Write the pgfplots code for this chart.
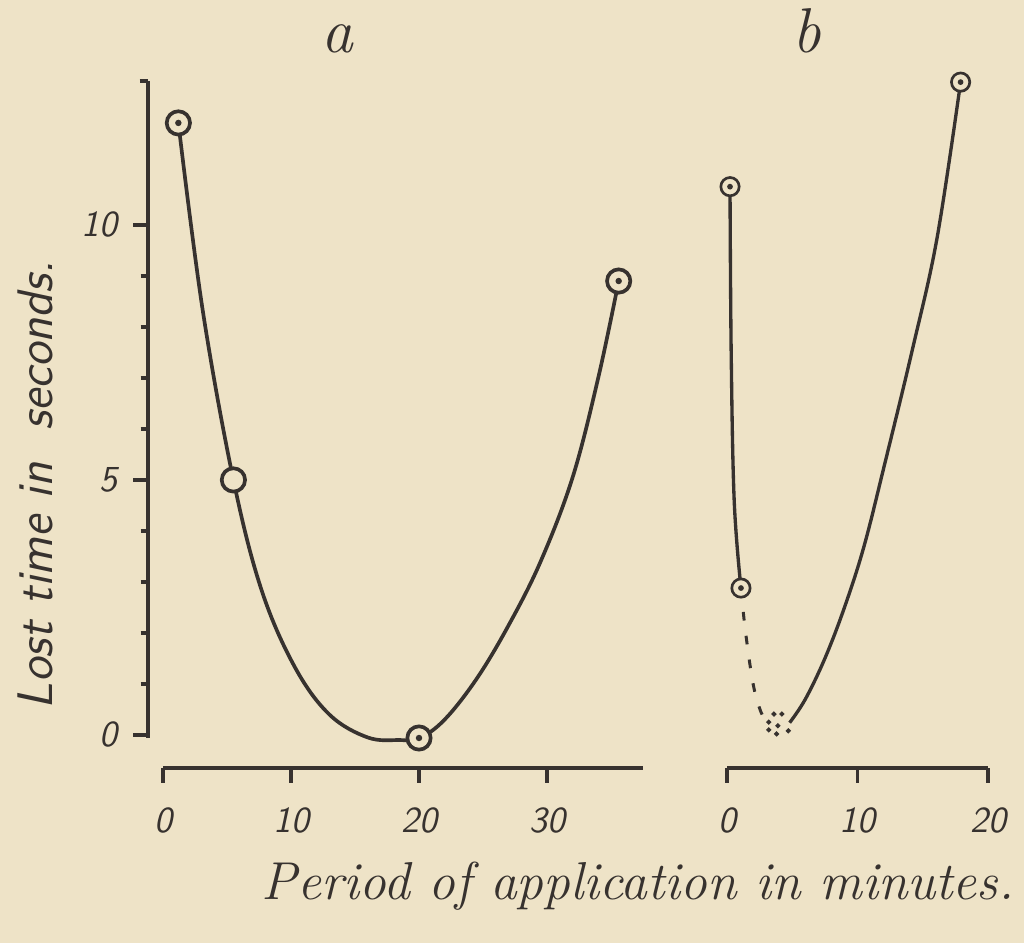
\documentclass[border=0pt]{standalone}
\usepackage{fontspec}
\usepackage{pgfplots}
\pgfplotsset{compat=1.18}
\definecolor{bg}{RGB}{238,227,199}
\definecolor{ink}{RGB}{55,50,47}
\begin{document}
\begin{tikzpicture}
\path[use as bounding box, fill=bg] (0,0) rectangle (307.2pt,282.9pt);
\pgfplotsset{
  every axis/.append style={
    scale only axis, clip=false, y=15.3pt, ymin=-0.06, ymax=12.82,
    anchor=south west,
    axis x line*=bottom,
    axis line style={ink, line width=1pt},
    tick style={ink, line width=1pt},
    tick align=outside,
    major tick length=4.5pt, minor tick length=2.2pt,
    /pgf/number format/assume math mode=true,
    tick label style={font=\fontsize{11}{13}\sffamily\itshape, text=ink},
    axis x line shift=9pt,
    xticklabel style={yshift=-4pt},
  },
  circa/.style={only marks, mark=*, mark size=3.5pt, mark options={fill=bg, draw=ink, line width=1.1pt}},
  circb/.style={only marks, mark=*, mark size=2.75pt, mark options={fill=bg, draw=ink, line width=0.8pt}},
  dot/.style={only marks, mark=*, mark size=0.75pt, mark options={fill=ink, draw=ink}},
}
% Panel a
\begin{axis}[at={(48.9pt,61.5pt)}, x=3.84pt, xmin=0, xmax=37.5,
  axis y line*=left, axis y line shift=4.5pt,
  xtick={0,10,20,30}, ytick={0,5,10}, minor y tick num=4,
  extra y ticks={12.82}, extra y tick labels={}, extra y tick style={major tick length=2.5pt},
  yticklabel style={xshift=-1pt}]
\addplot[ink, line width=1.1pt, smooth, tension=0.6] coordinates {
(1.2,12.0) (3.1,8.33) (5.5,5.0) (7.7,2.84) (10.3,1.33) (13,0.4) (16,-0.05) (18.5,-0.1) (20,-0.07) (22,0.3) (24.5,1.1) (27,2.15) (29.5,3.4) (32,5.05) (34,7.0) (35.6,8.9)};
\addplot[circa] coordinates {(1.2,12.0) (5.5,5.0) (20.0,-0.06) (35.6,8.9)};
\addplot[dot] coordinates {(1.2,12.0) (20.0,-0.06) (35.6,8.9)};
\end{axis}
% Panel b
\begin{axis}[at={(218.1pt,61.5pt)}, x=3.915pt, xmin=0, xmax=20,
  axis y line=none, xtick={0,10,20}]
\addplot[ink, line width=1pt, smooth, tension=0.6] coordinates {
(0.23,10.75) (0.32,7.5) (0.55,4.6) (1.07,2.88)};
\addplot[ink, line width=0.9pt, smooth, tension=0.6, dash pattern=on 2.6pt off 4.6pt] coordinates {
(1.07,2.88) (1.4,2.06) (2.0,1.0) (2.6,0.45) (3.0,0.3)};
\addplot[only marks, mark=*, mark size=0.55pt, mark options={fill=ink, draw=ink}] coordinates {
(3.6,0.41) (4.2,0.41) (3.2,0.25) (3.9,0.18) (3.2,0.10) (3.8,0.02) (4.7,0.08)};
\addplot[ink, line width=1pt, smooth, tension=0.6] coordinates {
(4.8,0.24) (6.0,0.7) (7.5,1.5) (9.0,2.5) (10.5,3.7) (12.1,5.33) (14.2,7.55) (16.1,9.75) (17.9,12.8)};
\addplot[circb] coordinates {(0.23,10.75) (1.07,2.88) (17.9,12.8)};
\addplot[dot, mark size=0.65pt] coordinates {(0.23,10.75) (1.07,2.88) (17.9,12.8)};
\end{axis}
% Labels
\node[rotate=90, text=ink, font=\fontsize{15}{17}\sffamily\itshape] at (10.5pt,137.4pt) {Lost time in \ seconds.};
\node[anchor=base, text=ink, font=\fontsize{16}{18}\selectfont\itshape] at (191.4pt,12.9pt) {Period of application in minutes.};
\node[anchor=base, text=ink, font=\fontsize{19}{21}\selectfont\itshape] at (101.1pt,267pt) {a};
\node[anchor=base, text=ink, font=\fontsize{19}{21}\selectfont\itshape] at (242.1pt,267pt) {b};
\end{tikzpicture}
\end{document}
